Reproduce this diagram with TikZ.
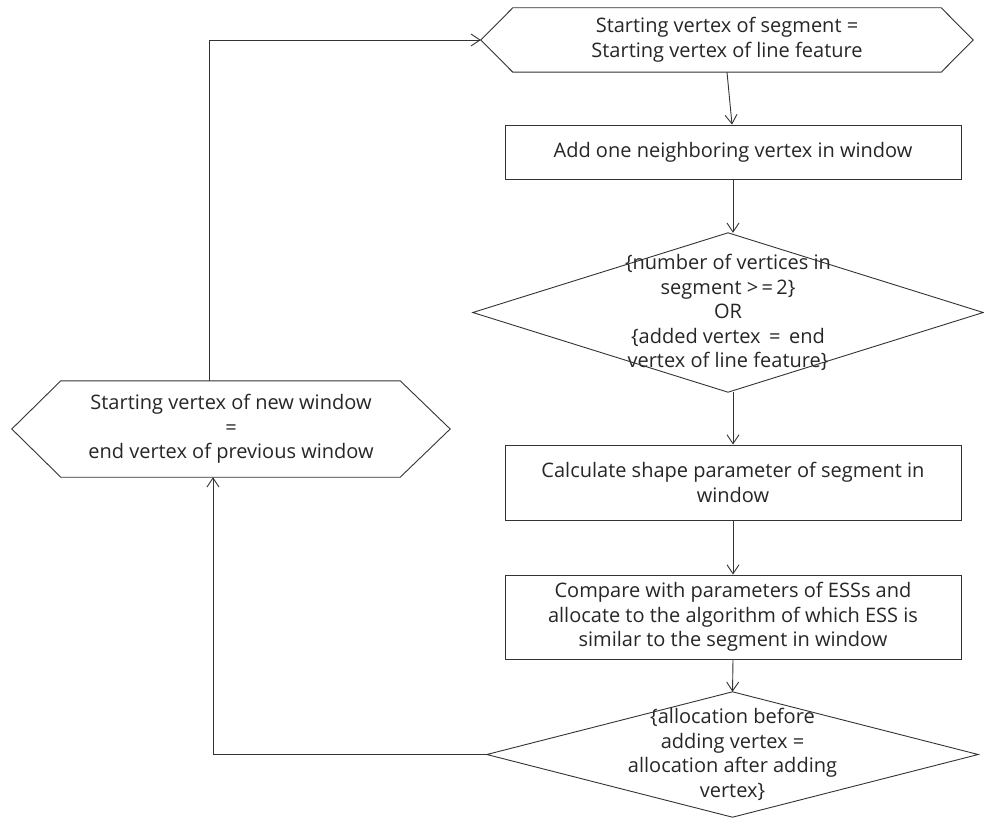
\documentclass[tikz,border=0pt]{standalone}
\usepackage{fontspec}
\setmainfont{Open Sans}
\usetikzlibrary{arrows.meta}
\begin{document}
\begin{tikzpicture}[x=1pt,y=-1pt,
  lbl/.style={font=\fontsize{20}{24.5}\selectfont, align=center, text=black!85, inner sep=0pt},
  frame/.style={draw=black!80, line width=0.9pt},
  arr/.style={draw=black!80, line width=0.9pt, -{Straight Barb[length=9pt,width=12pt,line width=0.9pt]}},
  box/.style={lbl, rectangle, minimum width=456pt},
  area/.style={lbl, rectangle}
]
\useasboundingbox (0,0) rectangle (984,818);
% top hexagon
\node[area, minimum width=492pt, minimum height=64pt] (th) at (727,40) {Starting vertex of segment =\\Starting vertex of line feature};
\draw[frame] (th.west) -- ([xshift=32pt]th.north west) -- ([xshift=-32pt]th.north east) -- (th.east) -- ([xshift=-32pt]th.south east) -- ([xshift=32pt]th.south west) -- cycle;
% rect 1
\node[box, minimum height=54pt, frame] (r1) at (733,152) {Add one neighboring vertex in window};
% diamond 1
\node[area, minimum width=510pt, minimum height=159pt] (d1) at (728,312.5) {\{number of vertices in\\segment >\,=\,2\}\\OR\\\{added vertex \,=\, end\\vertex of line feature\}};
\draw[frame] (d1.north) -- (d1.east) -- (d1.south) -- (d1.west) -- cycle;
% rect 2
\node[box, minimum height=75pt, frame] (r2) at (733,482.5) {Calculate shape parameter of segment in\\window};
% rect 3
\node[box, minimum height=84pt, frame] (r3) at (733,617) {Compare with parameters of ESSs and\\allocate to the algorithm of which ESS is\\similar to the segment in window};
% diamond 2
\node[area, minimum width=491pt, minimum height=125pt] (d2) at (732.5,754.5) {\{allocation before\\adding vertex =\\allocation after adding\\vertex\}};
\draw[frame] (d2.north) -- (d2.east) -- (d2.south) -- (d2.west) -- cycle;
% left hexagon
\node[area, minimum width=438pt, minimum height=96pt] (lh) at (231,429) {Starting vertex of new window\\=\\end vertex of previous window};
\draw[frame] (lh.west) -- ([xshift=49pt]lh.north west) -- ([xshift=-50pt]lh.north east) -- (lh.east) -- ([xshift=-50pt]lh.south east) -- ([xshift=49pt]lh.south west) -- cycle;
% connectors
\draw[arr] (th.south) -- ([xshift=-1pt]r1.north);
\draw[arr] (r1.south) -- (d1.north -| r1.south);
\draw[arr] (d1.south -| r2.north) -- (r2.north);
\draw[arr] (r2.south) -- (r3.north);
\draw[arr] (r3.south) -- (d2.north);
\draw[arr] ([xshift=-22pt]lh.north) |- (th.west);
\draw[arr] (d2.west) -| ([xshift=-18pt]lh.south);
\end{tikzpicture}
\end{document}
